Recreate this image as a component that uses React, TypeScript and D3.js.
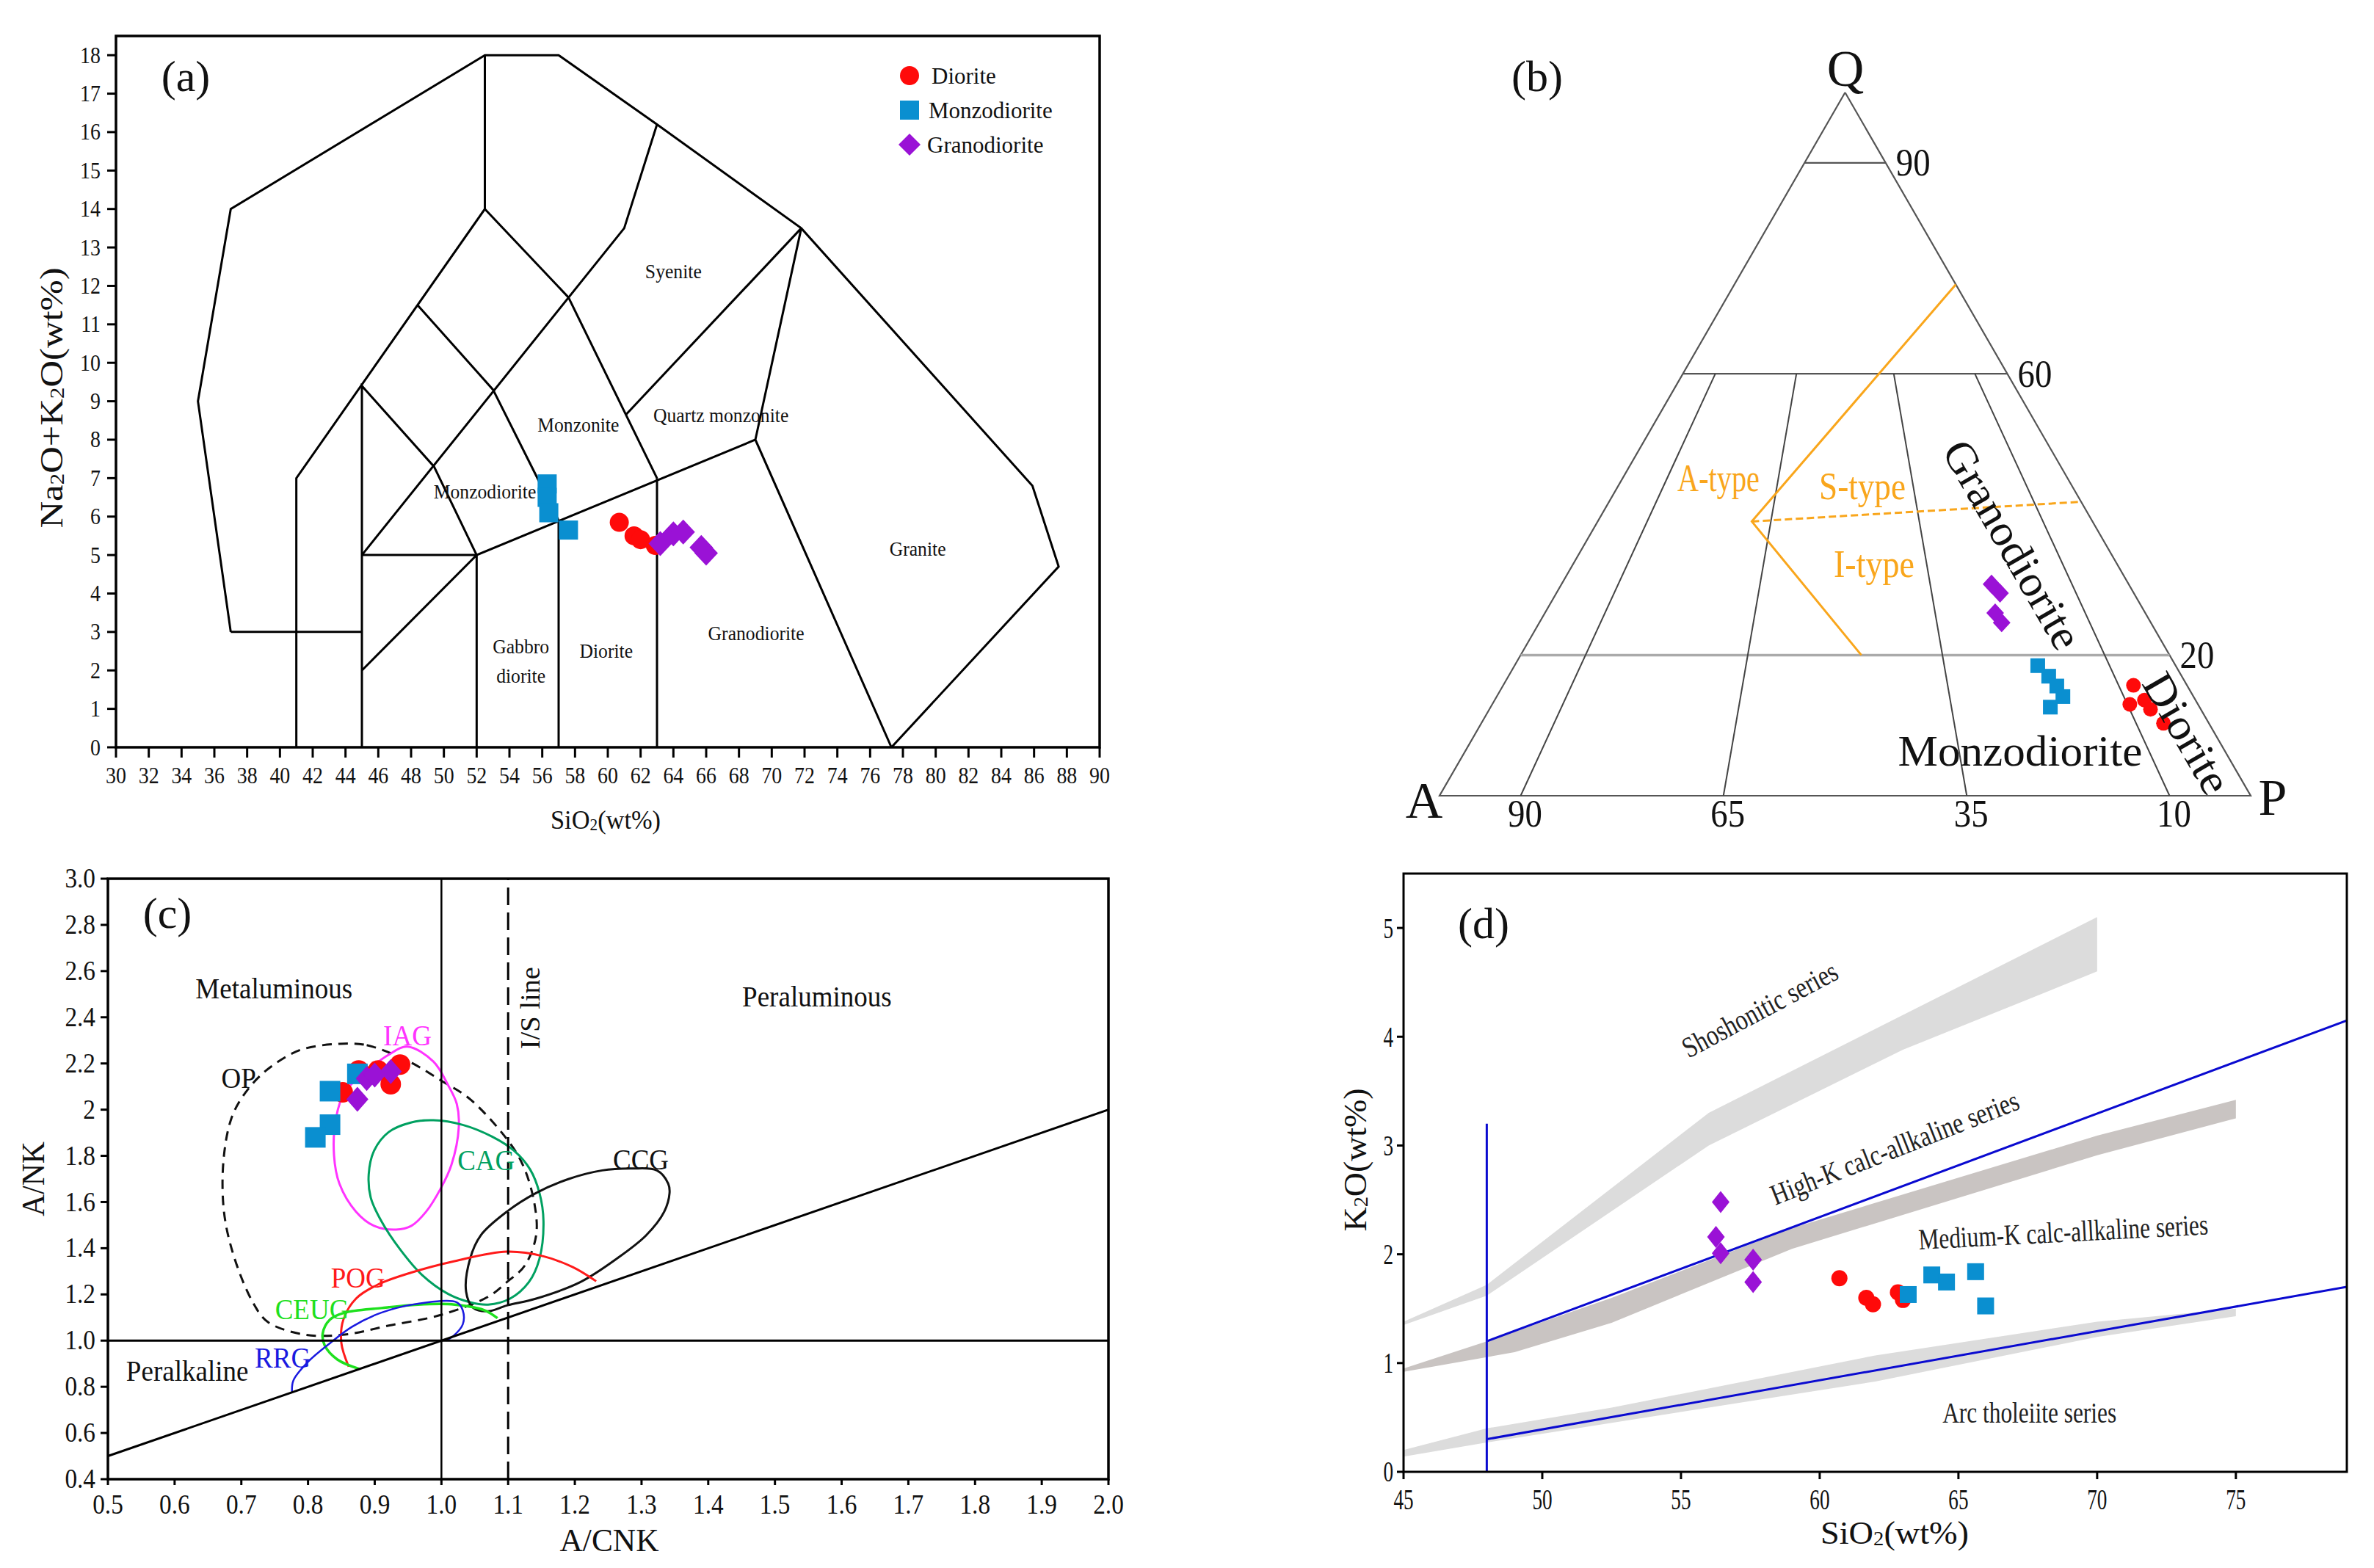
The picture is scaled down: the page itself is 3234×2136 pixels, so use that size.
import React from "react";
import * as d3 from "d3";

const SERIF = '"Liberation Serif", "Times New Roman", Times, serif';
const RED = "#ff0a0a";
const BLUE = "#0a8fd0";
const PURPLE = "#9a12d6";
const ORANGE = "#f9a61c";

// ---------- (a) TAS diagram ----------
const tasXTicks = [30, 32, 34, 36, 38, 40, 42, 44, 46, 48, 50, 52, 54, 56, 58, 60, 62, 64, 66, 68, 70, 72, 74, 76, 78, 80, 82, 84, 86, 88, 90];
const tasYTicks = [0, 1, 2, 3, 4, 5, 6, 7, 8, 9, 10, 11, 12, 13, 14, 15, 16, 17, 18];
const tasLines: [number, number][][] = [
    [[37, 3], [35, 9], [37, 14], [52.5, 18], [57, 18], [63, 16.2], [71.8, 13.5], [85.9, 6.8], [87.5, 4.7], [77.3, 0]],
    [[37, 3], [45, 3]],
    [[41, 0], [41, 7], [52.5, 14], [52.5, 18]],
    [[45, 0], [45, 9.4], [49.4, 7.3], [52, 5]],
    [[45, 2], [52, 5], [69, 8]],
    [[45, 5], [52, 5]],
    [[52, 0], [52, 5]],
    [[57, 0], [57, 5.9]],
    [[63, 0], [63, 7]],
    [[45, 5], [61, 13.5], [63, 16.2]],
    [[52.5, 14], [57.6, 11.7], [63, 7]],
    [[48.4, 11.5], [53, 9.3], [57, 5.9]],
    [[61.1, 8.65], [71.8, 13.5]],
    [[71.8, 13.5], [69, 8], [77.3, 0]],
];
const tasFields = [
    { t: "Syenite", x: 64.0, y: 12.37 },
    { t: "Quartz monzonite", x: 66.9, y: 8.62 },
    { t: "Monzonite", x: 58.2, y: 8.38 },
    { t: "Monzodiorite", x: 52.5, y: 6.64 },
    { t: "Gabbro", x: 54.7, y: 2.61 },
    { t: "diorite", x: 54.7, y: 1.85 },
    { t: "Diorite", x: 59.9, y: 2.5 },
    { t: "Granodiorite", x: 69.05, y: 2.96 },
    { t: "Granite", x: 78.9, y: 5.14 },
];
const dioriteTAS: [number, number][] = [[60.7, 5.85], [61.6, 5.5], [62.0, 5.4], [62.9, 5.25]];
const monzoTAS: [number, number][] = [[56.3, 6.85], [56.3, 6.5], [56.4, 6.1], [57.6, 5.65]];
const granoTAS: [number, number][] = [[63.2, 5.3], [64.0, 5.55], [64.6, 5.6], [65.7, 5.2], [66.0, 5.05]];

// ---------- (b) QAP ternary (Q, A, P in %) ----------
const qapLevels = [90, 60, 20];
const qapRatios = [10, 35, 65, 90];
const orangeSolid: [number, number, number][] = [[72.7, 0, 27.3], [39, 42, 19], [20, 38, 42]];
const orangeDash: [number, number, number][] = [[39, 42, 19], [41.8, 0, 58.2]];
const dioriteQAP: [number, number, number][] = [[15.7, 6.6, 77.7], [13.6, 6.3, 80.1], [13.0, 8.4, 78.6], [12.3, 6.2, 81.5], [10.3, 5.6, 84.1]];
const monzoQAP: [number, number, number][] = [[18.5, 17.0, 64.5], [17.0, 16.4, 66.6], [15.6, 16.1, 68.3], [14.1, 16.1, 69.8], [12.6, 18.4, 69.0]];
const granoQAP: [number, number, number][] = [[30.1, 16.9, 53.0], [28.8, 16.5, 54.7], [26.0, 18.5, 55.5], [24.6, 18.4, 57.0]];

// ---------- (c) A/CNK vs A/NK ----------
const acnkTicks = [0.5, 0.6, 0.7, 0.8, 0.9, 1.0, 1.1, 1.2, 1.3, 1.4, 1.5, 1.6, 1.7, 1.8, 1.9, 2.0];
const acnkLabels = ["0.5", "0.6", "0.7", "0.8", "0.9", "1.0", "1.1", "1.2", "1.3", "1.4", "1.5", "1.6", "1.7", "1.8", "1.9", "2.0"];
const anTicks = [0.4, 0.6, 0.8, 1.0, 1.2, 1.4, 1.6, 1.8, 2.0, 2.2, 2.4, 2.6, 2.8, 3.0];
const anLabels = ["0.4", "0.6", "0.8", "1.0", "1.2", "1.4", "1.6", "1.8", "2", "2.2", "2.4", "2.6", "2.8", "3.0"];
const opField: [number, number][] = [[0.847, 2.285], [0.888, 2.279], [0.949, 2.212], [0.999, 2.127], [1.043, 2.045], [1.098, 1.873], [1.122, 1.761], [1.139, 1.6], [1.142, 1.456], [1.125, 1.325], [1.098, 1.253], [1.07, 1.19], [0.999, 1.111], [0.921, 1.065], [0.855, 1.026], [0.795, 1.026], [0.74, 1.08], [0.718, 1.162], [0.69, 1.355], [0.674, 1.558], [0.674, 1.802], [0.688, 1.984], [0.715, 2.106], [0.745, 2.187], [0.789, 2.259]];
const iagField: [number, number][] = [[0.949, 2.273], [0.988, 2.208], [1.01, 2.106], [1.023, 2.025], [1.026, 1.923], [1.015, 1.761], [0.999, 1.659], [0.977, 1.558], [0.955, 1.497], [0.932, 1.481], [0.899, 1.497], [0.872, 1.558], [0.847, 1.68], [0.839, 1.802], [0.842, 1.964], [0.855, 2.076], [0.888, 2.167], [0.921, 2.238]];
const cagField: [number, number][] = [[0.988, 1.954], [1.032, 1.934], [1.076, 1.883], [1.109, 1.822], [1.133, 1.741], [1.147, 1.639], [1.153, 1.517], [1.147, 1.355], [1.131, 1.253], [1.103, 1.182], [1.07, 1.156], [1.043, 1.166], [1.01, 1.202], [0.971, 1.284], [0.938, 1.395], [0.91, 1.517], [0.894, 1.619], [0.891, 1.72], [0.899, 1.822], [0.921, 1.903], [0.954, 1.944]];
const ccgField: [number, number][] = [[1.285, 1.745], [1.323, 1.737], [1.34, 1.68], [1.342, 1.639], [1.334, 1.558], [1.307, 1.456], [1.263, 1.355], [1.208, 1.253], [1.142, 1.182], [1.098, 1.152], [1.07, 1.127], [1.048, 1.141], [1.037, 1.212], [1.043, 1.355], [1.059, 1.456], [1.098, 1.558], [1.142, 1.639], [1.191, 1.7], [1.241, 1.737]];
const pogCurve: [number, number][] = [[0.861, 0.887], [0.85, 0.989], [0.853, 1.091], [0.872, 1.182], [0.905, 1.243], [0.954, 1.294], [1.021, 1.345], [1.098, 1.385], [1.153, 1.365], [1.197, 1.318], [1.232, 1.257]];
const ceugCurve: [number, number][] = [[0.877, 0.877], [0.844, 0.918], [0.825, 0.979], [0.822, 1.03], [0.833, 1.091], [0.855, 1.121], [0.91, 1.141], [0.965, 1.156], [1.02, 1.156], [1.065, 1.131], [1.084, 1.097]];
const rrgCurve: [number, number][] = [[0.776, 0.776], [0.778, 0.827], [0.8, 0.908], [0.833, 0.989], [0.866, 1.06], [0.91, 1.121], [0.965, 1.16], [1.023, 1.166], [1.032, 1.131], [1.032, 1.07], [1.018, 1.02], [1.007, 1.0]];
const fieldLabelsC = [
    { t: "Metaluminous", x: 0.749, y: 2.523, c: "#111" },
    { t: "Peraluminous", x: 1.563, y: 2.49, c: "#111" },
    { t: "Peralkaline", x: 0.619, y: 0.867, c: "#111" },
    { t: "OP", x: 0.696, y: 2.137, c: "#111" },
    { t: "IAG", x: 0.949, y: 2.32, c: "#ff33ff" },
    { t: "CAG", x: 1.067, y: 1.78, c: "#00a060" },
    { t: "CCG", x: 1.299, y: 1.785, c: "#111" },
    { t: "POG", x: 0.875, y: 1.273, c: "#ff1a1a" },
    { t: "CEUG", x: 0.806, y: 1.135, c: "#1ee01e" },
    { t: "RRG", x: 0.762, y: 0.924, c: "#1a1ae0" },
];
const monzoC: [number, number][] = [[0.833, 2.08], [0.874, 2.155], [0.833, 1.935], [0.811, 1.88]];
const dioriteC: [number, number][] = [[0.852, 2.075], [0.876, 2.17], [0.905, 2.17], [0.938, 2.195], [0.924, 2.11]];
const granoC: [number, number][] = [[0.888, 2.135], [0.924, 2.165], [0.874, 2.045], [0.9, 2.15]];

// ---------- (d) SiO2 vs K2O ----------
const sioTicks = [45, 50, 55, 60, 65, 70, 75];
const k2oTicks = [0, 1, 2, 3, 4, 5];
const shoshBand: [number, number][] = [[45, 1.38], [48, 1.72], [56, 3.3], [70, 5.1], [70, 4.6], [63, 3.88], [56, 3.0], [48, 1.62], [45, 1.35]];
const midBand: [number, number][] = [[45, 0.95], [48, 1.2], [52.5, 1.6], [59, 2.24], [70, 3.09], [75, 3.42], [75, 3.25], [70, 2.91], [59, 2.05], [52.5, 1.37], [49, 1.1], [45, 0.92]];
const tholBand: [number, number][] = [[45, 0.2], [48, 0.4], [52.5, 0.59], [62, 1.07], [70, 1.38], [75, 1.5], [75, 1.43], [70, 1.24], [62, 0.83], [48, 0.27], [45, 0.14]];
const blueLines: [number, number][][] = [
    [[48, 0], [48, 3.2]],
    [[48, 1.2], [79, 4.15]],
    [[48, 0.3], [79, 1.7]],
];
const seriesLabels = [
    { t: "Shoshonitic series", x: 57.84, y: 4.25, rot: -28, len: 234 },
    { t: "High-K calc-allkaline series", x: 62.7, y: 2.98, rot: -21.5, len: 360 },
    { t: "Medium-K calc-allkaline series", x: 68.78, y: 2.205, rot: -3, len: 395 },
    { t: "Arc tholeiite series", x: 67.56, y: 0.54, rot: 0, len: 237 },
];
const granoD: [number, number][] = [[56.43, 2.48], [56.26, 2.16], [56.43, 2.01], [57.6, 1.95], [57.6, 1.745]];
const dioriteD: [number, number][] = [[60.71, 1.78], [61.68, 1.6], [61.92, 1.54], [62.82, 1.65], [63.0, 1.58]];
const monzoD: [number, number][] = [[63.19, 1.63], [64.04, 1.81], [64.57, 1.745], [65.62, 1.84], [65.98, 1.525]];

type TP = {
    x: number; y: number; size: number; children: React.ReactNode;
    anchor?: string; rot?: number; sx?: number; fill?: string; len?: number;
};
function T({ x, y, size, children, anchor = "middle", rot = 0, sx = 1, fill = "#111", len }: TP) {
    return (
        <text
            transform={`translate(${x},${y}) rotate(${rot}) scale(${sx},1)`}
            fontSize={size}
            fontFamily={SERIF}
            textAnchor={anchor}
            dominantBaseline="central"
            fill={fill}
            textLength={len}
            lengthAdjust={len ? "spacingAndGlyphs" : undefined}
        >
            {children}
        </text>
    );
}

const dot = (x: number, y: number, r: number, k: string) => <circle key={k} cx={x} cy={y} r={r} fill={RED} />;
const sq = (x: number, y: number, s: number, k: string) => <rect key={k} x={x - s / 2} y={y - s / 2} width={s} height={s} fill={BLUE} />;
const dia = (x: number, y: number, w: number, h: number, k: string) => (
    <path key={k} d={`M${x},${y - h}L${x + w},${y}L${x},${y + h}L${x - w},${y}Z`} fill={PURPLE} />
);
const Sub = ({ children }: { children: React.ReactNode }) => (
    <tspan fontSize="0.62em" dy="0.28em">{children}</tspan>
);

function PanelA() {
    const x = d3.scaleLinear().domain([30, 90]).range([158, 1498]);
    const y = d3.scaleLinear().domain([0, 18.5]).range([1018, 49]);
    const line = d3.line<[number, number]>().x((d) => x(d[0])).y((d) => y(d[1]));
    return (
        <g>
            {tasLines.map((l, i) => (
                <path key={i} d={line(l) || ""} fill="none" stroke="#000" strokeWidth={3} strokeLinejoin="miter" />
            ))}
            <rect x={x(30)} y={y(18.5)} width={x(90) - x(30)} height={y(0) - y(18.5)} fill="none" stroke="#000" strokeWidth={3.5} />
            {tasYTicks.map((v) => (
                <g key={v}>
                    <line x1={x(30) - 12} x2={x(30)} y1={y(v)} y2={y(v)} stroke="#000" strokeWidth={3} />
                    <T x={x(30) - 21} y={y(v)} size={31} anchor="end" sx={0.9}>{v}</T>
                </g>
            ))}
            {tasXTicks.map((v) => (
                <g key={v}>
                    <line x1={x(v)} x2={x(v)} y1={y(0)} y2={y(0) + 14} stroke="#000" strokeWidth={3} />
                    <T x={x(v)} y={y(0) + 38} size={31} sx={0.9}>{v}</T>
                </g>
            ))}
            {tasFields.map((f) => (
                <T key={f.t} x={x(f.x)} y={y(f.y)} size={27} sx={0.95}>{f.t}</T>
            ))}
            {dioriteTAS.map((d, i) => dot(x(d[0]), y(d[1]), 13, "c" + i))}
            {monzoTAS.map((d, i) => sq(x(d[0]), y(d[1]), 26, "s" + i))}
            {granoTAS.map((d, i) => dia(x(d[0]), y(d[1]), 16, 17, "d" + i))}
            <T x={253} y={104} size={60}>(a)</T>
            <T x={70} y={542} size={44} rot={-90} len={355}>
                Na<Sub>2</Sub><tspan dy="-0.17em">O+K</tspan><Sub>2</Sub><tspan dy="-0.17em">O(wt%)</tspan>
            </T>
            <T x={825} y={1117} size={36} len={150}>
                SiO<Sub>2</Sub><tspan dy="-0.17em">(wt%)</tspan>
            </T>
            {/* legend */}
            <circle cx={1239} cy={103} r={13} fill={RED} />
            <T x={1269} y={103} size={31} anchor="start">Diorite</T>
            <rect x={1226} y={137} width={26} height={26} fill={BLUE} />
            <T x={1265} y={150} size={31} anchor="start">Monzodiorite</T>
            {dia(1239, 197, 15, 15, "leg")}
            <T x={1263} y={197} size={31} anchor="start">Granodiorite</T>
        </g>
    );
}

function PanelB() {
    const tx = d3.scaleLinear().domain([0, 100]).range([1961, 3066]);
    const ty = d3.scaleLinear().domain([0, 100]).range([1084, 126]);
    const pt = ([q, a, p]: [number, number, number]): [number, number] => {
        const s = q + a + p;
        const Q = (100 * q) / s;
        const P = (100 * p) / s;
        return [tx(P + Q / 2), ty(Q)];
    };
    const line = d3.line<[number, number, number]>().x((d) => pt(d)[0]).y((d) => pt(d)[1]);
    const grey = "#555";
    return (
        <g>
            <path d={line([[100, 0, 0], [0, 100, 0], [0, 0, 100], [100, 0, 0]]) || ""} fill="none" stroke={grey} strokeWidth={2.2} strokeLinejoin="miter" />
            {qapLevels.map((q) => (
                <path key={q} d={line([[q, 100 - q, 0], [q, 0, 100 - q]]) || ""} stroke={q === 20 ? "#aaa" : grey} strokeWidth={q === 20 ? 3.5 : 2.2} fill="none" />
            ))}
            {qapRatios.map((t) => (
                <path key={t} d={line([[60, (40 * (100 - t)) / 100, (40 * t) / 100], [0, 100 - t, t]]) || ""} stroke="#444" strokeWidth={2} fill="none" />
            ))}
            <path d={line(orangeSolid) || ""} fill="none" stroke={ORANGE} strokeWidth={3} />
            <path d={line(orangeDash) || ""} fill="none" stroke={ORANGE} strokeWidth={3} strokeDasharray="10 5" />
            {dioriteQAP.map((d, i) => { const [px, py] = pt(d); return dot(px, py, 10, "c" + i); })}
            {monzoQAP.map((d, i) => { const [px, py] = pt(d); return sq(px, py, 20, "s" + i); })}
            {granoQAP.map((d, i) => { const [px, py] = pt(d); return dia(px, py, 12, 13, "d" + i); })}
            {qapLevels.map((q) => {
                const [px, py] = pt([q, 0, 100 - q]);
                return <T key={q} x={px + 14} y={py} size={52} anchor="start" sx={0.9}>{q}</T>;
            })}
            {qapRatios.map((t) => {
                const [px, py] = pt([0, 100 - t, t]);
                return <T key={t} x={px + 6} y={py + 25} size={52} sx={0.9}>{100 - t}</T>;
            })}
            <T x={2514} y={93} size={70}>Q</T>
            <T x={1940} y={1090} size={70}>A</T>
            <T x={3096} y={1086} size={70}>P</T>
            <T x={2094} y={104} size={60}>(b)</T>
            <T x={2341} y={651} size={52} fill={ORANGE} len={112}>A-type</T>
            <T x={2537} y={662} size={52} fill={ORANGE} len={118}>S-type</T>
            <T x={2553} y={768} size={52} fill={ORANGE} len={110}>I-type</T>
            <T x={2741} y={742} size={60} rot={60} len={318}>Granodiorite</T>
            <T x={2979} y={999} size={60} rot={60} len={180}>Diorite</T>
            <T x={2752} y={1023} size={60} len={333}>Monzodiorite</T>
        </g>
    );
}

function PanelC() {
    const x = d3.scaleLinear().domain([0.5, 2.0]).range([147, 1510]);
    const y = d3.scaleLinear().domain([0.4, 3.0]).range([2015, 1197]);
    const closed = d3.line<[number, number]>().x((d) => x(d[0])).y((d) => y(d[1])).curve(d3.curveCatmullRomClosed);
    const open = d3.line<[number, number]>().x((d) => x(d[0])).y((d) => y(d[1])).curve(d3.curveCatmullRom);
    return (
        <g>
            <path d={closed(opField) || ""} fill="none" stroke="#111" strokeWidth={3} strokeDasharray="13 9" />
            <path d={closed(iagField) || ""} fill="none" stroke="#ff33ff" strokeWidth={3} />
            <path d={closed(cagField) || ""} fill="none" stroke="#00a060" strokeWidth={3} />
            <path d={closed(ccgField) || ""} fill="none" stroke="#111" strokeWidth={3} />
            <path d={open(pogCurve) || ""} fill="none" stroke="#ff1a1a" strokeWidth={3} />
            <path d={open(ceugCurve) || ""} fill="none" stroke="#1ee01e" strokeWidth={3.5} />
            <path d={open(rrgCurve) || ""} fill="none" stroke="#1a1ae0" strokeWidth={2.5} />
            <line x1={x(1.0)} x2={x(1.0)} y1={y(0.4)} y2={y(3.0)} stroke="#000" strokeWidth={2.5} />
            <line x1={x(1.1)} x2={x(1.1)} y1={y(0.4)} y2={y(3.0)} stroke="#000" strokeWidth={3} strokeDasharray="24 10" />
            <line x1={x(0.5)} x2={x(2.0)} y1={y(1.0)} y2={y(1.0)} stroke="#000" strokeWidth={3} />
            <line x1={x(0.5)} x2={x(2.0)} y1={y(0.5)} y2={y(2.0)} stroke="#000" strokeWidth={3} />
            <rect x={x(0.5)} y={y(3.0)} width={x(2.0) - x(0.5)} height={y(0.4) - y(3.0)} fill="none" stroke="#000" strokeWidth={3.5} />
            {anTicks.map((v, i) => (
                <g key={v}>
                    <line x1={x(0.5) - 10} x2={x(0.5)} y1={y(v)} y2={y(v)} stroke="#000" strokeWidth={3} />
                    <T x={x(0.5) - 17} y={y(v)} size={37} anchor="end" sx={0.9}>{anLabels[i]}</T>
                </g>
            ))}
            {acnkTicks.map((v, i) => (
                <g key={v}>
                    <line x1={x(v)} x2={x(v)} y1={y(0.4)} y2={y(0.4) + 8} stroke="#000" strokeWidth={3} />
                    <T x={x(v)} y={y(0.4) + 35} size={37} sx={0.9}>{acnkLabels[i]}</T>
                </g>
            ))}
            {fieldLabelsC.map((f) => (
                <T key={f.t} x={x(f.x)} y={y(f.y)} size={39} sx={0.95} fill={f.c}>{f.t}</T>
            ))}
            <T x={x(1.133)} y={y(2.44)} size={38} rot={-90} len={112}>I/S line</T>
            {dioriteC.map((d, i) => dot(x(d[0]), y(d[1]), 14, "c" + i))}
            {monzoC.map((d, i) => sq(x(d[0]), y(d[1]), 28, "s" + i))}
            {granoC.map((d, i) => dia(x(d[0]), y(d[1]), 15, 17, "d" + i))}
            <T x={228} y={1244} size={60}>(c)</T>
            <T x={45} y={1606} size={44} rot={-90} len={102}>A/NK</T>
            <T x={830} y={2098} size={44} len={135}>A/CNK</T>
        </g>
    );
}

function PanelD() {
    const x = d3.scaleLinear().domain([45, 79]).range([1912, 3197]);
    const y = d3.scaleLinear().domain([0, 5.5]).range([2005, 1190]);
    const line = d3.line<[number, number]>().x((d) => x(d[0])).y((d) => y(d[1]));
    return (
        <g>
            <defs>
                <clipPath id="clipD">
                    <rect x={x(45)} y={y(5.5)} width={x(79) - x(45)} height={y(0) - y(5.5)} />
                </clipPath>
            </defs>
            <g clipPath="url(#clipD)">
                <path d={(line(shoshBand) || "") + "Z"} fill="#dcdcdc" />
                <path d={(line(midBand) || "") + "Z"} fill="#c9c4c2" />
                <path d={(line(tholBand) || "") + "Z"} fill="#dcdcdc" />
                {blueLines.map((l, i) => (
                    <path key={i} d={line(l) || ""} stroke="#0a0ad0" strokeWidth={3} fill="none" />
                ))}
            </g>
            <rect x={x(45)} y={y(5.5)} width={x(79) - x(45)} height={y(0) - y(5.5)} fill="none" stroke="#000" strokeWidth={3} />
            {k2oTicks.map((v) => (
                <g key={v}>
                    <line x1={x(45) - 9} x2={x(45)} y1={y(v)} y2={y(v)} stroke="#000" strokeWidth={3} />
                    <T x={x(45) - 14} y={y(v)} size={40} anchor="end" sx={0.68}>{v}</T>
                </g>
            ))}
            {sioTicks.map((v) => (
                <g key={v}>
                    <line x1={x(v)} x2={x(v)} y1={y(0)} y2={y(0) + 10} stroke="#000" strokeWidth={3} />
                    <T x={x(v)} y={y(0) + 38} size={40} sx={0.68}>{v}</T>
                </g>
            ))}
            {seriesLabels.map((s) => (
                <T key={s.t} x={x(s.x)} y={y(s.y)} size={40} rot={s.rot} len={s.len} fill="#222">{s.t}</T>
            ))}
            {granoD.map((d, i) => dia(x(d[0]), y(d[1]), 12, 15, "d" + i))}
            {dioriteD.map((d, i) => dot(x(d[0]), y(d[1]), 11, "c" + i))}
            {monzoD.map((d, i) => sq(x(d[0]), y(d[1]), 23, "s" + i))}
            <T x={2021} y={1258} size={60}>(d)</T>
            <T x={1846} y={1580} size={44} rot={-90} len={195}>
                K<Sub>2</Sub><tspan dy="-0.17em">O(wt%)</tspan>
            </T>
            <T x={2581} y={2088} size={44} len={202}>
                SiO<Sub>2</Sub><tspan dy="-0.17em">(wt%)</tspan>
            </T>
        </g>
    );
}

export default function App() {
    return (
        <svg
            width={3234}
            height={2136}
            viewBox="0 0 3234 2136"
            style={{ position: "absolute", left: 0, top: 0, display: "block", background: "#fff" }}
        >
            <rect width={3234} height={2136} fill="#fff" />
            <PanelA />
            <PanelB />
            <PanelC />
            <PanelD />
        </svg>
    );
}
